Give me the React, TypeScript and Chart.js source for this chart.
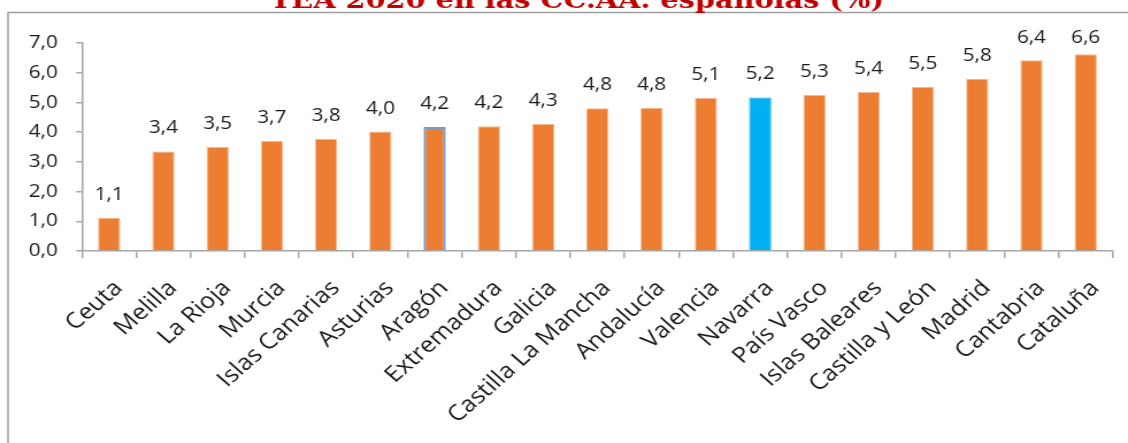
import React, { useEffect, useRef } from "react";
import { Chart, registerables } from "chart.js";

Chart.register(...registerables);

const chartTitle = "TEA 2020 en las CC.AA. españolas (%)";
const categories = [
  "Ceuta", "Melilla", "La Rioja", "Murcia", "Islas Canarias", "Asturias", "Aragón",
  "Extremadura", "Galicia", "Castilla La Mancha", "Andalucía", "Valencia", "Navarra",
  "País Vasco", "Islas Baleares", "Castilla y León", "Madrid", "Cantabria", "Cataluña",
];
const teaValues = [
  1.12, 3.35, 3.5, 3.7, 3.78, 4.02, 4.17, 4.2, 4.27, 4.8, 4.82, 5.15, 5.17, 5.25, 5.35, 5.52, 5.8, 6.42, 6.62,
];
const valueLabels = [
  "1,1", "3,4", "3,5", "3,7", "3,8", "4,0", "4,2", "4,2", "4,3", "4,8", "4,8", "5,1", "5,2", "5,3", "5,4", "5,5", "5,8", "6,4", "6,6",
];
const yMin = 0;
const yMax = 7;
const yStep = 1;

const highlightBorder = "Aragón";
const highlightFill = "Navarra";

// horizontal stretch of the reference picture
const SX = 1.15;
const CSS_W = 1128;
const CSS_H = 443;
const W = Math.round(CSS_W / SX);
const H = CSS_H;

const ORANGE = "#ED7D31";
const BLUE = "#00B0F0";
const AXIS = "#a6a6a6";
const FONT = "'Open Sans'";
const LABEL_ROT = 45;

export default function App() {
  const ref = useRef<HTMLCanvasElement | null>(null);

  useEffect(() => {
    const canvas = ref.current;
    if (!canvas) return;

    const fills = categories.map((c) => (c === highlightFill ? BLUE : ORANGE));
    const borders = categories.map((c) =>
      c === highlightBorder ? "#6f9bd1" : c === highlightFill ? BLUE : "#f6b892"
    );
    const borderWidths = categories.map((c) => (c === highlightBorder ? 2 : 1));

    const framePlugin = {
      id: "frameTitle",
      beforeDraw(chart: any) {
        const ctx = chart.ctx;
        ctx.save();
        ctx.fillStyle = "#ffffff";
        ctx.fillRect(0, 0, chart.width, chart.height);
        ctx.strokeStyle = "#a0a0a0";
        ctx.lineWidth = 1.5;
        ctx.beginPath();
        ctx.moveTo(7, H);
        ctx.lineTo(7, 12.5);
        ctx.lineTo(W + 2, 12.5);
        ctx.stroke();
        ctx.fillStyle = "#C00000";
        ctx.font = "bold 25px 'DejaVu Serif'";
        ctx.textAlign = "center";
        ctx.textBaseline = "alphabetic";
        ctx.fillText(chartTitle, 577 / SX, 8);
        ctx.restore();
      },
    };

    const labelPlugin = {
      id: "valueLabels",
      afterDatasetsDraw(chart: any) {
        const ctx = chart.ctx;
        const meta = chart.getDatasetMeta(0);
        ctx.save();
        ctx.fillStyle = "#1a1a1a";
        ctx.font = `18px ${FONT}`;
        ctx.textAlign = "center";
        ctx.textBaseline = "alphabetic";
        meta.data.forEach((bar: any, i: number) => {
          const y = Math.max(bar.y - 18, 42.5);
          ctx.fillText(valueLabels[i], bar.x, y);
        });
        ctx.restore();
      },
    };

    // category labels of the x scale, rotated like the reference
    const xLabelPlugin = {
      id: "xLabels",
      afterDraw(chart: any) {
        const ctx = chart.ctx;
        const xs = chart.scales.x;
        const ang = (LABEL_ROT * Math.PI) / 180;
        ctx.save();
        ctx.fillStyle = "#1a1a1a";
        ctx.font = `22px ${FONT}`;
        ctx.textAlign = "right";
        ctx.textBaseline = "alphabetic";
        categories.forEach((c, i) => {
          const x = xs.getPixelForValue(i) + 12.7;
          const y = xs.top + 38;
          ctx.save();
          ctx.translate(x, y);
          ctx.rotate(-ang);
          ctx.fillText(c, 0, 0);
          ctx.restore();
        });
        ctx.restore();
      },
    };

    const chart = new Chart(canvas, {
      type: "bar",
      data: {
        labels: categories,
        datasets: [
          {
            data: teaValues,
            backgroundColor: fills,
            borderColor: borders,
            borderWidth: borderWidths,
            categoryPercentage: 1,
            barPercentage: 0.41,
          },
        ],
      },
      options: {
        animation: false,
        responsive: false,
        devicePixelRatio: 1,
        layout: { padding: { top: 43, left: 0, right: W - 967.8, bottom: 0 } },
        plugins: {
          legend: { display: false },
          title: { display: false },
          tooltip: { enabled: false },
        },
        scales: {
          x: {
            offset: true,
            grid: {
              display: true,
              offset: true,
              drawOnChartArea: false,
              drawTicks: true,
              tickLength: 7,
              color: AXIS,
              lineWidth: 1.5,
            },
            border: { display: true, color: AXIS, width: 1.5 },
            ticks: {
              display: false,
              autoSkip: false,
            },
            afterFit(scale: any) {
              scale.height = H - 251;
            },
          },
          y: {
            min: yMin,
            max: yMax,
            grid: {
              display: true,
              drawOnChartArea: false,
              drawTicks: true,
              tickLength: 5,
              color: AXIS,
              lineWidth: 1.5,
            },
            border: { display: true, color: AXIS, width: 1.5 },
            ticks: {
              stepSize: yStep,
              padding: 16,
              color: "#1a1a1a",
              font: { family: FONT, size: 18 },
              callback: (v: any) => Number(v).toFixed(1).replace(".", ","),
            },
            afterFit(scale: any) {
              scale.width = 82 / SX;
            },
          },
        },
      },
      plugins: [framePlugin, labelPlugin, xLabelPlugin],
    });

    return () => chart.destroy();
  }, []);

  return (
    <div style={{ position: "absolute", left: 0, top: 0, width: CSS_W, height: CSS_H, overflow: "hidden" }}>
      <canvas
        ref={ref}
        width={W}
        height={H}
        style={{ width: `${CSS_W}px`, height: `${CSS_H}px`, display: "block" }}
      />
    </div>
  );
}
